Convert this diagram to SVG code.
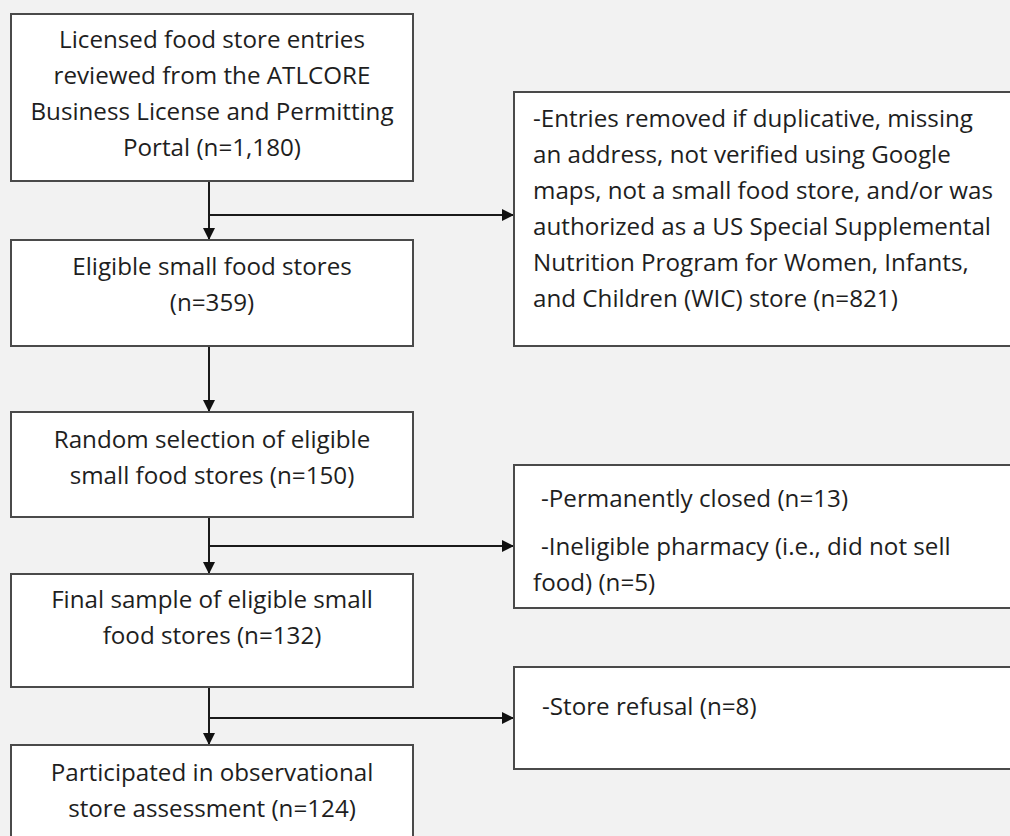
<svg xmlns="http://www.w3.org/2000/svg" width="1010" height="836" viewBox="0 0 1010 836">
<defs>
<marker id="arr" markerUnits="userSpaceOnUse" markerWidth="14" markerHeight="14" refX="12" refY="6.5" orient="auto">
<path d="M0,0.5 L12,6.5 L0,12.5 z" fill="#111"/>
</marker>
<style>
.box{fill:#fff;stroke:#4a4a4a;stroke-width:2}
.t{font-family:"Open Sans","Liberation Sans",sans-serif;font-size:24.2px;fill:#1e1e1e}
.c{text-anchor:middle}
.ln{stroke:#1a1a1a;stroke-width:2;fill:none}
</style>
</defs>
<rect x="0" y="0" width="1010" height="836" fill="#f2f2f2"/>
<g id="connectors">
<line class="ln" x1="209" y1="181" x2="209" y2="240" marker-end="url(#arr)"/>
<line class="ln" x1="209" y1="215" x2="514" y2="215" marker-end="url(#arr)"/>
<line class="ln" x1="209" y1="346" x2="209" y2="412" marker-end="url(#arr)"/>
<line class="ln" x1="209" y1="517" x2="209" y2="574" marker-end="url(#arr)"/>
<line class="ln" x1="209" y1="546" x2="514" y2="546" marker-end="url(#arr)"/>
<line class="ln" x1="209" y1="687" x2="209" y2="745" marker-end="url(#arr)"/>
<line class="ln" x1="209" y1="718" x2="514" y2="718" marker-end="url(#arr)"/>
</g>
<g id="n1">
<rect class="box" x="11" y="14" width="402" height="167"/>
<text class="t c" x="212" y="48">Licensed food store entries</text>
<text class="t c" x="212" y="84">reviewed from the ATLCORE</text>
<text class="t c" x="212" y="120">Business License and Permitting</text>
<text class="t c" x="212" y="156">Portal (n=1,180)</text>
</g>
<g id="n2">
<rect class="box" x="11" y="240" width="402" height="106"/>
<text class="t c" x="212" y="275">Eligible small food stores</text>
<text class="t c" x="212" y="311">(n=359)</text>
</g>
<g id="n3">
<rect class="box" x="11" y="412" width="402" height="105"/>
<text class="t c" x="212" y="448">Random selection of eligible</text>
<text class="t c" x="212" y="484">small food stores (n=150)</text>
</g>
<g id="n4">
<rect class="box" x="11" y="574" width="402" height="113"/>
<text class="t c" x="212" y="608">Final sample of eligible small</text>
<text class="t c" x="212" y="644">food stores (n=132)</text>
</g>
<g id="n5">
<rect class="box" x="11" y="745" width="402" height="100"/>
<text class="t c" x="212" y="781">Participated in observational</text>
<text class="t c" x="212" y="817">store assessment (n=124)</text>
</g>
<g id="e1">
<rect class="box" x="514" y="92" width="510" height="254"/>
<text class="t" x="533" y="127">-Entries removed if duplicative, missing</text>
<text class="t" x="533" y="163">an address, not verified using Google</text>
<text class="t" x="533" y="199">maps, not a small food store, and/or was</text>
<text class="t" x="533" y="235">authorized as a US Special Supplemental</text>
<text class="t" x="533" y="271">Nutrition Program for Women, Infants,</text>
<text class="t" x="533" y="307">and Children (WIC) store (n=821)</text>
</g>
<g id="e2">
<rect class="box" x="514" y="465" width="510" height="143"/>
<text class="t" x="541" y="507">-Permanently closed (n=13)</text>
<text class="t" x="541" y="555">-Ineligible pharmacy (i.e., did not sell</text>
<text class="t" x="533" y="591">food) (n=5)</text>
</g>
<g id="e3">
<rect class="box" x="514" y="667" width="510" height="102"/>
<text class="t" x="542" y="715">-Store refusal (n=8)</text>
</g>
</svg>
